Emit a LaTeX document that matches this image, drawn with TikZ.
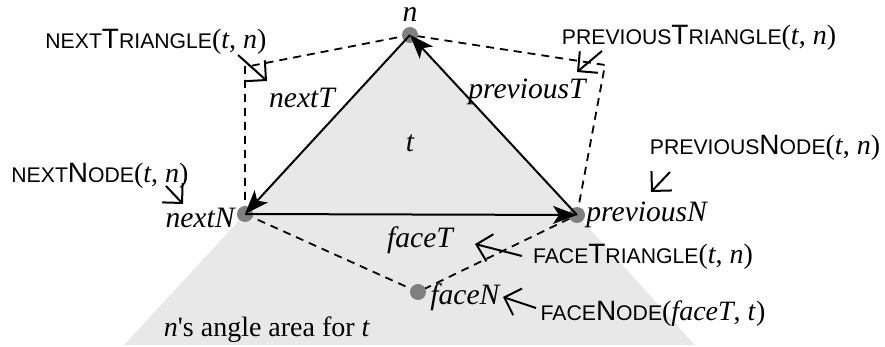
\documentclass[tikz,border=0pt]{standalone}
\usepackage{fontspec}
\setmainfont{Liberation Serif}
\setsansfont{Liberation Sans}
\usetikzlibrary{arrows.meta}
\definecolor{areagrey}{RGB}{232,232,232}
\definecolor{dotgrey}{RGB}{128,128,128}
% fake small caps for the operation names
\newcommand\ssc[1]{{\fontsize{10.6}{11}\selectfont\MakeUppercase{#1}}}
\newcommand\opname[2]{{\sffamily\fontsize{14}{15}\selectfont\ssc{#1}#2}}

\begin{document}
\begin{tikzpicture}[x=0.5pt, y=-0.5pt, >={Stealth[length=12pt,width=9pt,inset=3pt]},
					edge/.style={draw, line width=1pt},
					face/.style={draw, line width=0.9pt, dash pattern=on 4pt off 3pt},
					pointer/.style={draw, line width=1pt, -{Straight Barb[length=7pt,width=14pt]}},
					dot/.style={circle, fill=dotgrey, minimum size=8pt, inner sep=0pt},
					lbl/.style={font=\fontsize{14.8}{16}\selectfont\itshape, inner sep=1pt},
					oplbl/.style={font=\fontsize{14}{15}\selectfont, inner sep=1pt}]
	\useasboundingbox (0,0) rectangle (885,347);
	% Knoten und Ecken
	\coordinate (n) at (410,35);
	\coordinate (nextN) at (245,214);
	\coordinate (prevN) at (577,215);
	\coordinate (faceN) at (418,292);
	\coordinate (nextC) at (245,67);
	\coordinate (prevC) at (605,65);
	\coordinate (areaL) at (124,345);
	\coordinate (areaR) at (695,345);
	% Winkelbereich und Dreieck t
	\fill[areagrey] (nextN) -- (areaL) -- (areaR) -- (prevN) -- cycle;
	\fill[areagrey] (n) -- (nextN) -- (prevN) -- cycle;
	% Nachbardreiecke
	\draw[face] (nextN) -- (nextC) -- (n) -- (prevC) -- (prevN);
	\draw[face] (nextN) -- (faceN) -- (prevN);
	\node[dot] (ndot) at (n) {};
	\node[dot] (nextNdot) at (nextN) {};
	\node[dot] (prevNdot) at (prevN) {};
	\node[dot] (faceNdot) at (faceN) {};
	\draw[edge, ->] (n) -- (nextN);
	\draw[edge, ->] (nextN) -- (prevN);
	\draw[edge, ->] (prevN) -- (n);
	% Beschriftungen
	\node[lbl, inner sep=0pt] (nlbl) at (410,15) {n};
	\node[lbl] (t) at (410,143) {t};
	\node[lbl] (nextT) at (302,98) {nextT};
	\node[lbl] (previousT) at (527,92) {previousT};
	\node[lbl, anchor=east] (nextNlbl) at (237,218) {nextN};
	\node[lbl, anchor=west] (prevNlbl) at (584,215) {previousN};
	\node[lbl] (faceT) at (420,240) {faceT};
	\node[lbl, anchor=west] (faceNlbl) at (428,297) {faceN};
	\node[oplbl] (area) at (267,330) {\textit{n}\textquotesingle s angle area for \textit{t}};
	% Operationen mit Zeigern
	\node[oplbl] (opNextT) at (156,42) {\opname{next}{T}\opname{riangle}{}(\textit{t}, \textit{n})};
	\node[oplbl] (opPrevT) at (699,38) {\opname{previous}{T}\opname{riangle}{}(\textit{t}, \textit{n})};
	\node[oplbl] (opNextN) at (100,176) {\opname{next}{N}\opname{ode}{}(\textit{t}, \textit{n})};
	\node[oplbl] (opPrevN) at (765,148) {\opname{previous}{N}\opname{ode}{}(\textit{t}, \textit{n})};
	\node[oplbl] (opFaceT) at (643,257) {\opname{face}{T}\opname{riangle}{}(\textit{t}, \textit{n})};
	\node[oplbl] (opFaceN) at (653,314) {\opname{face}{N}\opname{ode}{}(\textit{faceT}, \textit{t})};
	\coordinate (pNextT) at (267,81);
	\coordinate (pPrevT) at (577,72);
	\coordinate (pNextN) at (183,204);
	\coordinate (pPrevN) at (651,192);
	\coordinate (pFaceT) at (475,244);
	\coordinate (pFaceN) at (503,297);
	\draw[pointer] (238,55) -- (pNextT);
	\draw[pointer] (602,51) -- (pPrevT);
	\draw[pointer] (166,186) -- (pNextN);
	\draw[pointer] (670,172) -- (pPrevN);
	\draw[pointer] (522,256) -- (pFaceT);
	\draw[pointer] (536,308) -- (pFaceN);
\end{tikzpicture}
\end{document}
